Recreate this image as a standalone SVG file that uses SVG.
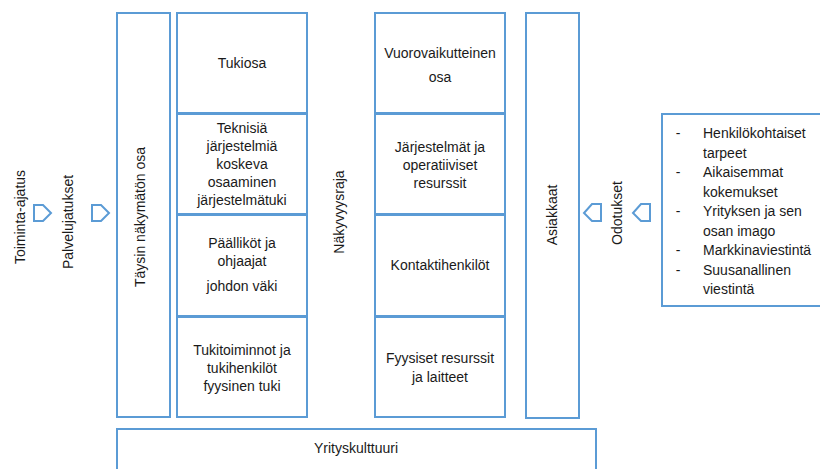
<svg xmlns="http://www.w3.org/2000/svg" width="820" height="469" viewBox="0 0 820 469">
  <style>
    .box { fill: #ffffff; stroke: #5b9bd5; stroke-width: 2; }
    .arrow { fill: #ffffff; stroke: #5b9bd5; stroke-width: 2; stroke-linejoin: miter; }
    text { font-family: "Liberation Sans", Arial, sans-serif; font-size: 14px; fill: #1a1a1a; }
    .c { text-anchor: middle; }
  </style>
  <rect width="820" height="469" fill="#ffffff"/>

  <!-- vertical side labels -->
  <g id="toiminta-ajatus">
    <text class="c" transform="translate(25,217) rotate(-90)">Toiminta-ajatus</text>
  </g>
  <g id="palvelujatukset">
    <text class="c" transform="translate(73,222) rotate(-90)">Palvelujatukset</text>
  </g>

  <!-- connectors: pentagon arrows -->
  <g id="connectors">
    <polygon class="arrow" points="34,205 43,205 51,213 43,221 34,221"/>
    <polygon class="arrow" points="92,205 101,205 109,213 101,221 92,221"/>
    <polygon class="arrow" points="601,204 592,204 584,213 592,221 601,221"/>
    <polygon class="arrow" points="650,204 641,204 633,213 641,221 650,221"/>
  </g>

  <!-- invisible part -->
  <g id="taysin-nakymaton">
    <rect class="box" x="117" y="13" width="53" height="404"/>
    <text class="c" transform="translate(145,217) rotate(-90)">Täysin näkymätön osa</text>
  </g>

  <g id="tukiosa">
    <rect class="box" x="177" y="13" width="130" height="100"/>
    <text class="c" x="242" y="68">Tukiosa</text>
  </g>
  <g id="tekninen-tuki">
    <rect class="box" x="177" y="114" width="130" height="100"/>
    <text class="c" x="242" y="133">Teknisiä</text>
    <text class="c" x="242" y="151">järjestelmiä</text>
    <text class="c" x="242" y="169">koskeva</text>
    <text class="c" x="242" y="187">osaaminen</text>
    <text class="c" x="242" y="205">järjestelmätuki</text>
  </g>
  <g id="johdon-vaki">
    <rect class="box" x="177" y="215" width="130" height="101"/>
    <text class="c" x="242" y="248">Päälliköt ja</text>
    <text class="c" x="242" y="266">ohjaajat</text>
    <text class="c" x="242" y="291">johdon väki</text>
  </g>
  <g id="fyysinen-tuki">
    <rect class="box" x="177" y="317" width="130" height="100"/>
    <text class="c" x="242" y="355">Tukitoiminnot ja</text>
    <text class="c" x="242" y="373">tukihenkilöt</text>
    <text class="c" x="242" y="391">fyysinen tuki</text>
  </g>

  <g id="nakyvyysraja">
    <text class="c" transform="translate(344,212) rotate(-90)">Näkyvyysraja</text>
  </g>

  <g id="vuorovaikutteinen">
    <rect class="box" x="375" y="13" width="130" height="100"/>
    <text class="c" x="440" y="58">Vuorovaikutteinen</text>
    <text class="c" x="440" y="82">osa</text>
  </g>
  <g id="jarjestelmat">
    <rect class="box" x="375" y="114" width="130" height="100"/>
    <text class="c" x="440" y="152">Järjestelmät ja</text>
    <text class="c" x="440" y="170">operatiiviset</text>
    <text class="c" x="440" y="188">resurssit</text>
  </g>
  <g id="kontaktihenkilot">
    <rect class="box" x="375" y="215" width="130" height="101"/>
    <text class="c" x="440" y="270">Kontaktihenkilöt</text>
  </g>
  <g id="fyysiset-resurssit">
    <rect class="box" x="375" y="317" width="130" height="100"/>
    <text class="c" x="440" y="363">Fyysiset resurssit</text>
    <text class="c" x="440" y="382">ja laitteet</text>
  </g>

  <g id="asiakkaat">
    <rect class="box" x="526" y="13" width="53" height="405"/>
    <text class="c" transform="translate(557,215) rotate(-90)">Asiakkaat</text>
  </g>

  <g id="odotukset">
    <text class="c" transform="translate(622,213) rotate(-90)">Odotukset</text>
  </g>

  <g id="odotuslista">
    <rect class="box" x="662" y="114" width="170" height="192"/>
    <text class="c" x="678" y="138">-</text>
    <text x="703" y="138">Henkilökohtaiset</text>
    <text x="703" y="157.5">tarpeet</text>
    <text class="c" x="678" y="177">-</text>
    <text x="703" y="177">Aikaisemmat</text>
    <text x="703" y="196.5">kokemukset</text>
    <text class="c" x="678" y="216">-</text>
    <text x="703" y="216">Yrityksen ja sen</text>
    <text x="703" y="235.5">osan imago</text>
    <text class="c" x="678" y="255">-</text>
    <text x="703" y="255">Markkinaviestintä</text>
    <text class="c" x="678" y="274.5">-</text>
    <text x="703" y="274.5">Suusanallinen</text>
    <text x="703" y="294">viestintä</text>
  </g>

  <g id="yrityskulttuuri">
    <rect class="box" x="117" y="429" width="479" height="50"/>
    <text class="c" x="356" y="453">Yrityskulttuuri</text>
  </g>
</svg>
